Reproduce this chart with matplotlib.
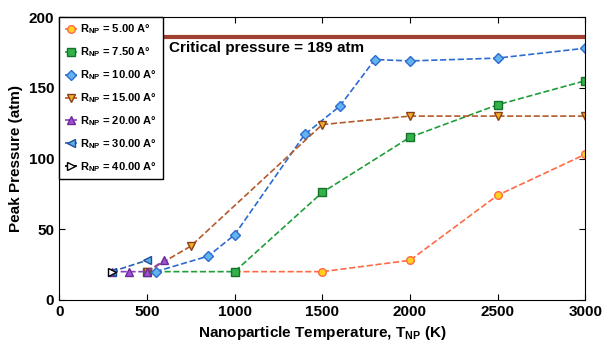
import numpy as np
import matplotlib.pyplot as plt

plt.rcParams['font.family'] = ['Liberation Sans', 'DejaVu Sans']
plt.rcParams['font.weight'] = 'bold'
plt.rcParams['mathtext.fontset'] = 'custom'
plt.rcParams['mathtext.rm'] = 'Liberation Sans:bold'
plt.rcParams['mathtext.it'] = 'Liberation Sans:bold'
plt.rcParams['mathtext.bf'] = 'Liberation Sans:bold'

# dati
x_500 = [1000, 1500, 2000, 2500, 3000]
p_500 = [20, 20, 28, 74, 103]
x_750 = [500, 1000, 1500, 2000, 2500, 3000]
p_750 = [20, 20, 76, 115, 138, 155]
x_1000 = [550, 850, 1000, 1400, 1600, 1800, 2000, 2500, 3000]
p_1000 = [20, 31, 46, 117, 137, 170, 169, 171, 178]
x_1500 = [500, 750, 1500, 2000, 2500, 3000]
p_1500 = [20, 38, 124, 130, 130, 130]
x_2000 = [300, 400, 500, 600]
p_2000 = [20, 20, 20, 28]
x_3000 = [300, 500]
p_3000 = [20, 28]
x_4000 = [300]
p_4000 = [20]

critical = 186

fig = plt.figure(figsize=(6.04, 3.42), dpi=100)
ax = fig.add_axes([0.098, 0.123, 0.871, 0.827])

ax.axhline(critical, color='#a04030', lw=3, zorder=1)
ax.text(625, 178, 'Critical pressure = 189 atm', fontsize=11, fontweight='bold', va='center')

serie = [
    (x_500, p_500, '#ff6a45', 'o', '#ffd21f', '#ff6a45', '5.00'),
    (x_750, p_750, '#1f9e3a', 's', '#33b24a', '#15722a', '7.50'),
    (x_1000, p_1000, '#2d6bd1', 'D', '#62b4ee', '#2d6bd1', '10.00'),
    (x_1500, p_1500, '#b45a2c', 'v', '#f0b020', '#8a3e1e', '15.00'),
    (x_2000, p_2000, '#8a40b8', '^', '#a050d0', '#6a2a98', '20.00'),
    (x_3000, p_3000, '#2a62b8', '<', '#5aaee6', '#1f4f9a', '30.00'),
    (x_4000, p_4000, 'black', '>', 'white', 'black', '40.00'),
]

for xs, ps, lc, mk, fc, ec, r in serie:
    ax.plot(xs, ps, ls='--', color=lc, lw=1.2, marker=mk, ms=5.5,
            mfc=fc, mec=ec, mew=1,
            label=r'$\mathregular{R_{NP}}$ = ' + r + ' A°')

ax.set_xlim(0, 3000)
ax.set_ylim(0, 200)
ax.set_xticks([0, 500, 1000, 1500, 2000, 2500, 3000])
ax.set_yticks([0, 50, 100, 150, 200])
ax.tick_params(direction='in', top=True, right=True, labelsize=11, length=4)
for lab in ax.get_xticklabels() + ax.get_yticklabels():
    lab.set_fontweight('bold')
ax.set_xlabel(r'Nanoparticle Temperature, T$_{\mathregular{NP}}$ (K)', fontsize=11, fontweight='bold')
ax.set_ylabel('Peak Pressure (atm)', fontsize=11, fontweight='bold')

leg = ax.legend(loc='upper left', fontsize=8, frameon=True, fancybox=False,
                edgecolor='black', framealpha=1, borderaxespad=0,
                handlelength=1.1, labelspacing=0.82, handletextpad=0.3,
                borderpad=0.5)
leg.get_frame().set_linewidth(1)
for t in leg.get_texts():
    t.set_fontweight('bold')

plt.savefig('out.png', dpi=100)
